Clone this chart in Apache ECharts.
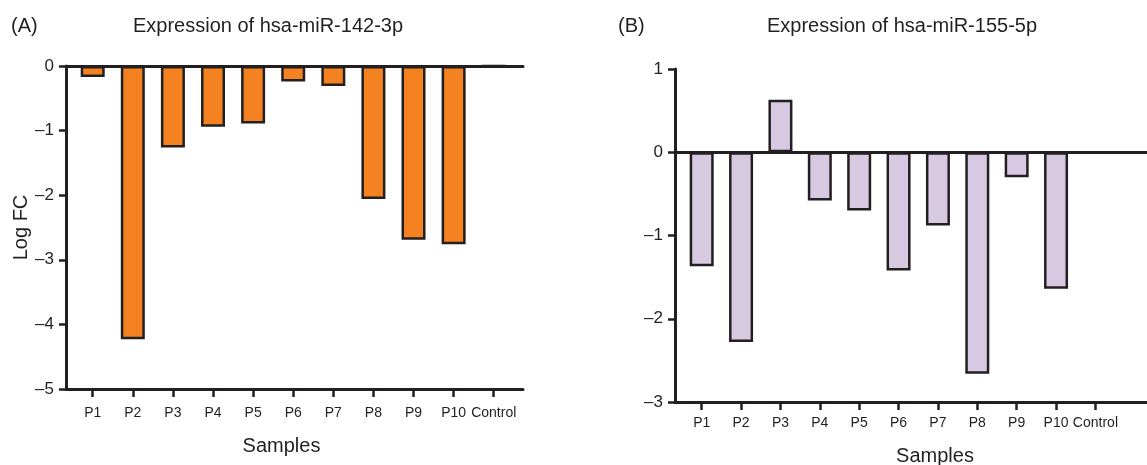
<!DOCTYPE html>
<html>
<head>
<meta charset="utf-8">
<title>miR expression</title>
<script src="https://cdn.jsdelivr.net/npm/echarts@6/dist/echarts.min.js"></script>
<style>
  html, body { margin: 0; padding: 0; background: #ffffff; }
  #chart { width: 1147px; height: 465px; }
</style>
</head>
<body>
<div id="chart"></div>
<script>
// 样本名称
const samples = ["P1", "P2", "P3", "P4", "P5", "P6", "P7", "P8", "P9", "P10", "Control"];
// hsa-miR-142-3p 的 Log FC
const mir142 = [-0.17, -4.23, -1.26, -0.94, -0.89, -0.24, -0.31, -2.06, -2.69, -2.76, 0];
// hsa-miR-155-5p 的 Log FC
const mir155 = [-1.37, -2.28, 0.63, -0.58, -0.70, -1.42, -0.88, -2.66, -0.30, -1.64, 0];
// 刻度位置（样本序号）
const sampleTicks = [0, 1, 2, 3, 4, 5, 6, 7, 8, 9, 10];

const ink = "#231f20";
const font = "'Liberation Sans', Arial, sans-serif";

const minusFmt = (v) => (v < 0 ? "\u2013" + Math.abs(v) : String(v));

// 底部带刻度和标签的 x 轴
function sampleAxis(gridIndex, min, max, labelSize, margin, namePad, nameGap) {
  return {
    type: "value",
    gridIndex: gridIndex,
    min: min,
    max: max,
    position: "bottom",
    name: "Samples",
    nameLocation: "middle",
    nameGap: nameGap,
    nameTextStyle: { color: ink, fontSize: 20, fontFamily: font, padding: namePad },
    axisLine: { onZero: false, lineStyle: { color: ink, width: 3 } },
    axisTick: { show: true, length: 8, customValues: sampleTicks, lineStyle: { color: ink, width: 2.5 } },
    axisLabel: {
      customValues: sampleTicks,
      color: ink,
      fontSize: labelSize,
      fontFamily: font,
      margin: margin,
      formatter: (v) => samples[Math.round(v)],
    },
    splitLine: { show: false },
  };
}

// 零线
function zeroLine(gridIndex, min, max) {
  return {
    type: "value",
    gridIndex: gridIndex,
    min: min,
    max: max,
    position: "bottom",
    axisLine: { onZero: true, lineStyle: { color: ink, width: 3 } },
    axisTick: { show: false },
    axisLabel: { show: false },
    splitLine: { show: false },
  };
}

function valueAxis(gridIndex, min, max, name, labelSize) {
  return {
    type: "value",
    gridIndex: gridIndex,
    min: min,
    max: max,
    interval: 1,
    name: name,
    nameLocation: "middle",
    nameGap: 33,
    nameTextStyle: { color: ink, fontSize: 20, fontFamily: font },
    axisLine: { show: true, onZero: false, lineStyle: { color: ink, width: 3 } },
    axisTick: { show: true, length: 7, lineStyle: { color: ink, width: 2.5 } },
    axisLabel: { color: ink, fontSize: labelSize, fontFamily: font, margin: 12, formatter: minusFmt },
    splitLine: { show: false },
  };
}

const leftMin = -0.666, leftMax = 10.73;
const rightMin = -0.678, rightMax = 11.31;

const chart = echarts.init(document.getElementById("chart"), null, { renderer: "canvas" });

chart.setOption({
  animation: false,
  backgroundColor: "#ffffff",
  title: [
    { text: "(A)", left: 6, top: 11, textStyle: { color: ink, fontSize: 20, fontWeight: "normal", fontFamily: font } },
    { text: "Expression of hsa-miR-142-3p", left: 263, top: 11, textAlign: "center",
      textStyle: { color: ink, fontSize: 20, fontWeight: "normal", fontFamily: font } },
    { text: "(B)", left: 613, top: 11, textStyle: { color: ink, fontSize: 20, fontWeight: "normal", fontFamily: font } },
    { text: "Expression of hsa-miR-155-5p", left: 897, top: 11, textAlign: "center",
      textStyle: { color: ink, fontSize: 20, fontWeight: "normal", fontFamily: font } },
  ],
  grid: [
    { left: 66, top: 66, width: 457, height: 323, outerBoundsMode: "none" },
    { left: 675, top: 69, width: 472, height: 333, outerBoundsMode: "none" },
  ],
  xAxis: [
    sampleAxis(0, leftMin, leftMax, 14, 17, [0, 26, 0, 0], 47),
    zeroLine(0, leftMin, leftMax),
    sampleAxis(1, rightMin, rightMax, 14, 14, [0, 0, 0, 48], 44),
    zeroLine(1, rightMin, rightMax),
  ],
  yAxis: [
    valueAxis(0, -5, 0, "Log FC", 17),
    valueAxis(1, -3, 1, "", 17),
  ],
  series: [
    {
      name: "hsa-miR-142-3p",
      type: "bar",
      xAxisIndex: 0,
      yAxisIndex: 0,
      barWidth: 24,
      data: mir142.map((v, i) => [i, v]),
      itemStyle: { color: "#f58220", borderColor: ink, borderWidth: 2.5 },
    },
    {
      name: "hsa-miR-155-5p",
      type: "bar",
      xAxisIndex: 2,
      yAxisIndex: 1,
      barWidth: 24,
      data: mir155.map((v, i) => [i, v]),
      itemStyle: { color: "#d8c9e3", borderColor: ink, borderWidth: 2.5 },
    },
  ],
});
</script>
</body>
</html>
